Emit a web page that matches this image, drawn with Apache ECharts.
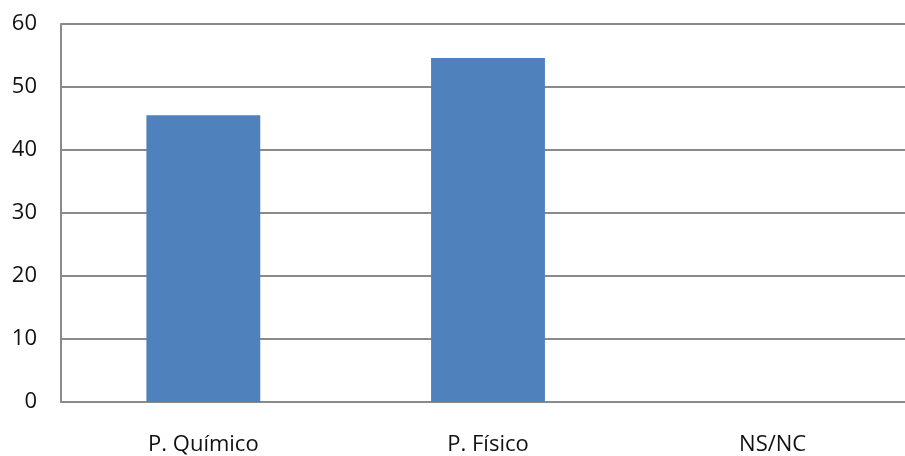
<!DOCTYPE html>
<html>
<head>
<meta charset="utf-8">
<script src="https://cdn.jsdelivr.net/npm/echarts@6/dist/echarts.min.js"></script>
<style>
  html, body { margin: 0; padding: 0; background: #fff; }
  #main { width: 905px; height: 456px; }
</style>
</head>
<body>
<div id="main"></div>
<script>
  // datos
  var categorias = ['P. Químico', 'P. Físico', 'NS/NC'];
  var valores = [45.5, 54.6, 0];
  var yTicks = [0, 10, 20, 30, 40, 50, 60];

  var chart = echarts.init(document.getElementById('main'));
  var option = {
    animation: false,
    grid: { left: 61, right: -10, top: 24, bottom: 54, outerBoundsMode: 'none' },
    xAxis: {
      type: 'category',
      data: categorias,
      axisLine: { lineStyle: { color: '#8a8a8a', width: 2 } },
      axisTick: { show: false },
      axisLabel: {
        color: '#111', fontSize: 22, margin: 32,
        fontFamily: 'Open Sans, Noto Sans, sans-serif'
      }
    },
    yAxis: {
      type: 'value',
      min: yTicks[0],
      max: yTicks[yTicks.length - 1],
      interval: 10,
      axisLine: { show: true, lineStyle: { color: '#8a8a8a', width: 2 } },
      axisTick: { show: false },
      splitLine: { lineStyle: { color: '#8a8a8a', width: 2 } },
      axisLabel: {
        color: '#111', fontSize: 22, margin: 24,
        fontFamily: 'Open Sans, Noto Sans, sans-serif'
      }
    },
    series: [{
      type: 'bar',
      data: valores,
      barWidth: '40%',
      itemStyle: { color: '#4f81bd' }
    }]
  };
  chart.setOption(option);
</script>
</body>
</html>
